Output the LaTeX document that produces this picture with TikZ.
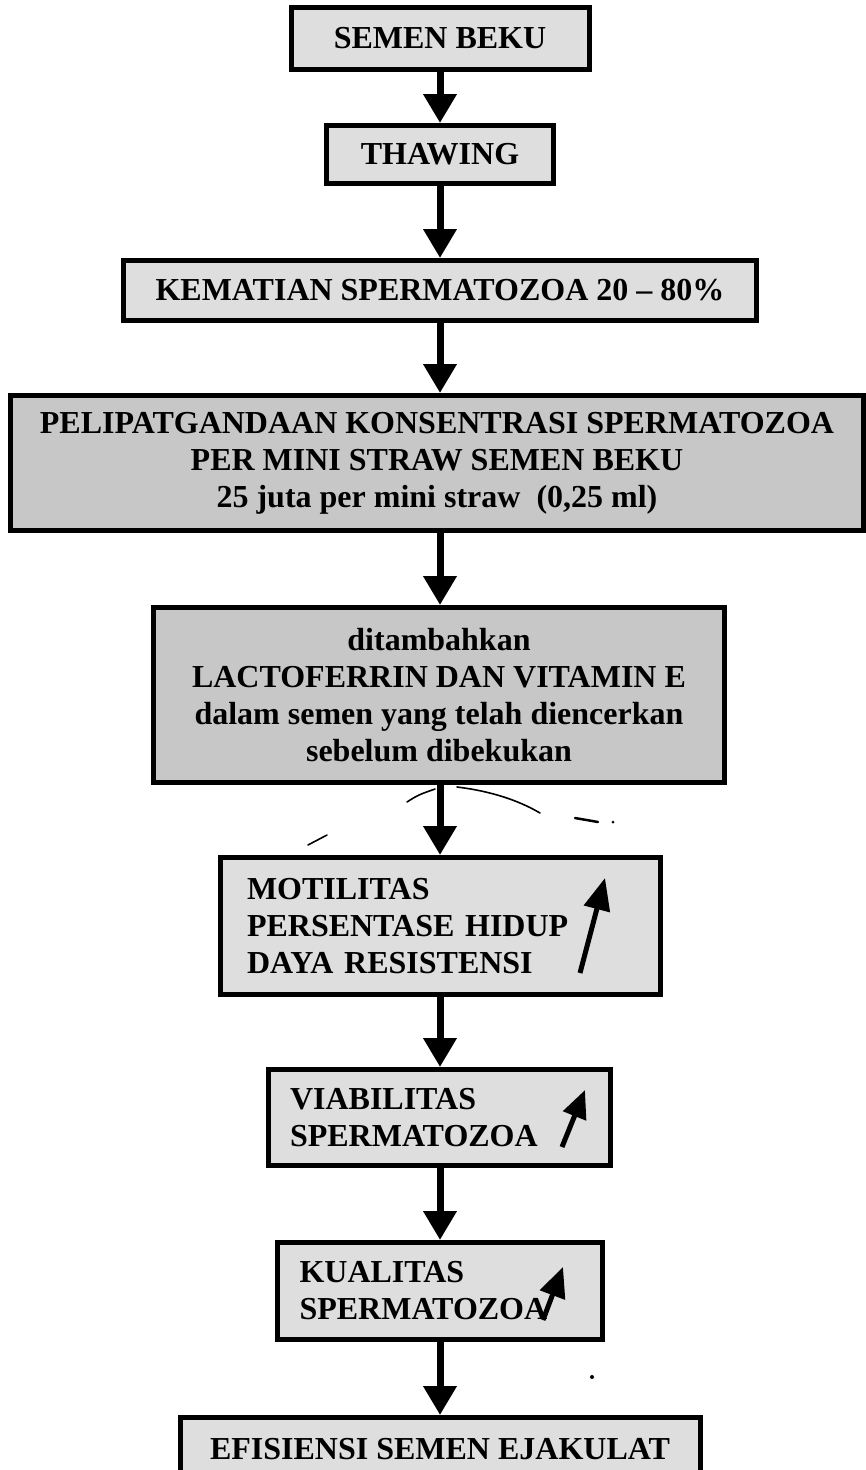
\documentclass[tikz,border=0pt]{standalone}
\usepackage{fontspec}
\setmainfont{Liberation Serif}
\usetikzlibrary{arrows.meta}
\begin{document}
\begin{tikzpicture}[x=1pt,y=-1pt,
  box/.style={draw=black, line width=5pt, fill=black!13, inner sep=0pt,
    font=\bfseries\fontsize{32}{37}\selectfont, align=center},
  dense/.style={fill=black!22},
  lbox/.style={box, align=left},
  flow/.style={line width=7pt, -{Triangle[width=32pt,length=29pt]}},
  up/.style={line width=5pt, -{Triangle[width=26pt,length=32pt]}},
  stray/.style={line width=1.6pt, line cap=round}]
\useasboundingbox (0,0) rectangle (866,1470);
\fill[white] (0,0) rectangle (866,1470);

\node[box, minimum width=298pt, minimum height=62pt] (b1) at (440,38.5) {SEMEN BEKU};
\node[box, minimum width=227pt, minimum height=58pt] (b2) at (440,154.5) {THAWING};
\node[box, minimum width=633pt, minimum height=60pt] (b3) at (440,290.5) {KEMATIAN SPERMATOZOA 20 -- 80\%};
\node[box, dense, minimum width=853pt, minimum height=135pt] (b4) at (437,463)
  {PELIPATGANDAAN KONSENTRASI SPERMATOZOA\\PER MINI STRAW SEMEN BEKU\\25 juta per mini straw\ \ (0,25 ml)};
\node[box, dense, minimum width=571pt, minimum height=175pt] (b5) at (439,695)
  {ditambahkan\\LACTOFERRIN DAN VITAMIN E\\dalam semen yang telah diencerkan\\sebelum dibekukan};
\node[lbox, text width=386pt, inner xsep=27pt, minimum height=137pt] (b6) at (440,926)
  {MOTILITAS\\PERSENTASE HIDUP\\DAYA RESISTENSI};
\node[lbox, text width=298pt, inner xsep=22pt, minimum height=96pt] (b7) at (439,1117.5)
  {VIABILITAS\\SPERMATOZOA};
\node[lbox, text width=281pt, inner xsep=22pt, minimum height=97pt] (b8) at (440,1291)
  {KUALITAS\\SPERMATOZOA};
\node[box, minimum width=520pt, minimum height=70pt, text depth=0pt] (b9) at (440,1452.5) {};
\node[font=\bfseries\fontsize{32}{37}\selectfont, inner sep=0pt] (t9) at (440,1449) {EFISIENSI SEMEN EJAKULAT};

\draw[flow] (b1.south) -- (b1.south |- b2.north);
\draw[flow] (b2.south) -- (b2.south |- b3.north);
\draw[flow] (b3.south) -- (b3.south |- b4.north);
\draw[flow] (b3.south |- b4.south) -- (b3.south |- b5.north);
\draw[flow] (b3.south |- b5.south) -- (b3.south |- b6.north);
\draw[flow] (b6.south) -- (b6.south |- b7.north);
\draw[flow] (b6.south |- b7.south) -- (b6.south |- b8.north);
\draw[flow] (b8.south) -- (b8.south |- b9.north);

% rising arrows inside boxes
\draw[up] (580,973) -- (605,878);
\draw[up, -{Triangle[width=24pt,length=28pt]}] (562,1147) -- (585,1090);
\draw[up, -{Triangle[width=26pt,length=30pt]}] (543,1320) -- (563,1267);

% stray pen marks
\draw[stray] (407,802) .. controls (418,795) .. (435,789);
\draw[stray] (308,845) -- (327,835);
\draw[stray] (457,787) .. controls (490,791) and (518,800) .. (540,813);
\draw[stray, line width=2.5pt] (575,818) -- (598,822);
\fill (613,822) circle (1.5);
\fill (592,1377) circle (2);
\end{tikzpicture}
\end{document}
